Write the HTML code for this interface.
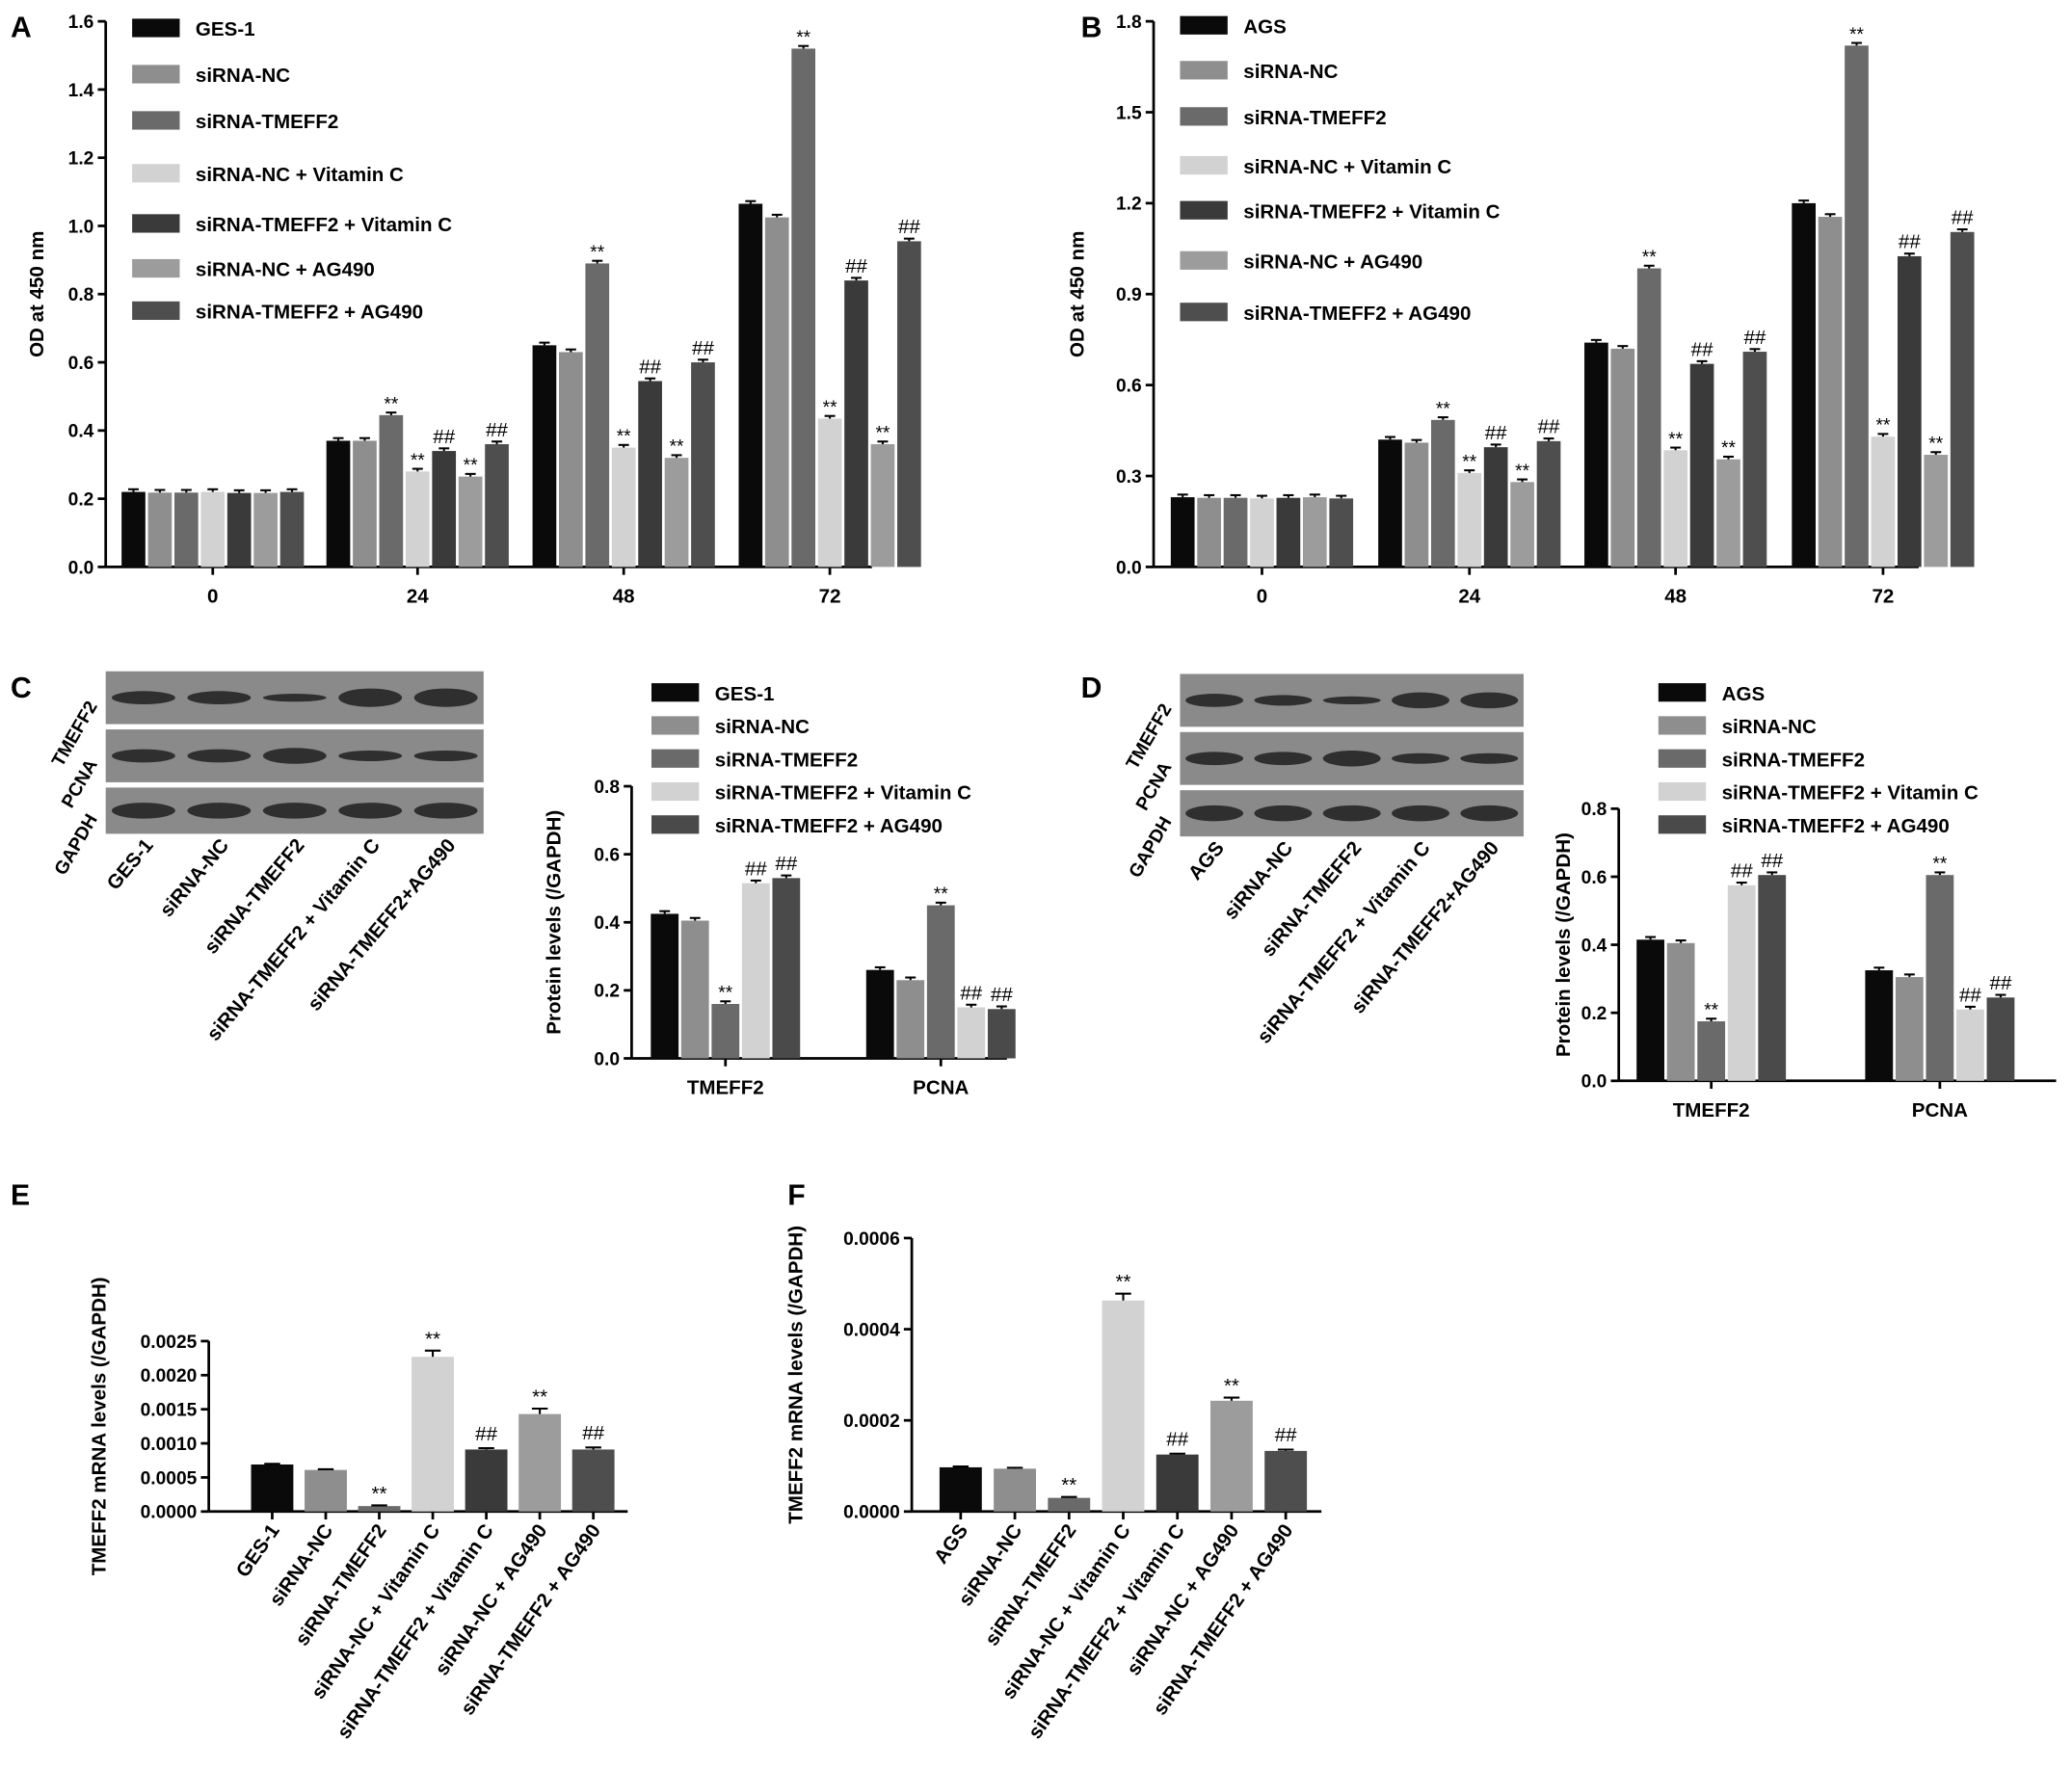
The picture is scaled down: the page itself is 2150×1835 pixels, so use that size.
<!DOCTYPE html>
<html><head><meta charset="utf-8"><style>
html,body{margin:0;padding:0;background:#fff;}
svg{display:block;font-family:"Liberation Sans",Arial,sans-serif;font-weight:bold;}
</style></head><body>
<svg id="fig" width="2150" height="1835" viewBox="0 0 1568 1338" xmlns="http://www.w3.org/2000/svg"></svg>
<script>
// ---------- data ----------
const colsA = ['#0a0a0a','#8e8e8e','#6a6a6a','#d2d2d2','#3a3a3a','#9c9c9c','#4e4e4e'];
const colsC = ['#0a0a0a','#8e8e8e','#6a6a6a','#d2d2d2','#4a4a4a'];
const timeCats = ['0','24','48','72'];
const legendA = ['GES-1','siRNA-NC','siRNA-TMEFF2','siRNA-NC + Vitamin C','siRNA-TMEFF2 + Vitamin C','siRNA-NC + AG490','siRNA-TMEFF2 + AG490'];
const legendB = ['AGS','siRNA-NC','siRNA-TMEFF2','siRNA-NC + Vitamin C','siRNA-TMEFF2 + Vitamin C','siRNA-NC + AG490','siRNA-TMEFF2 + AG490'];
const valsA = [[0.22,0.218,0.218,0.22,0.217,0.217,0.22],[0.37,0.37,0.445,0.28,0.34,0.265,0.36],[0.65,0.63,0.89,0.35,0.545,0.32,0.60],[1.065,1.025,1.52,0.435,0.84,0.36,0.955]];
const valsB = [[0.23,0.228,0.228,0.226,0.228,0.23,0.226],[0.42,0.41,0.485,0.31,0.395,0.28,0.415],[0.74,0.72,0.985,0.385,0.67,0.355,0.71],[1.2,1.155,1.72,0.43,1.025,0.37,1.105]];
const marksTime = ['','','**','**','##','**','##'];
const ticksA = [0,0.2,0.4,0.6,0.8,1.0,1.2,1.4,1.6];
const ticksB = [0,0.3,0.6,0.9,1.2,1.5,1.8];
const protCats = ['TMEFF2','PCNA'];
const legendC = ['GES-1','siRNA-NC','siRNA-TMEFF2','siRNA-TMEFF2 + Vitamin C','siRNA-TMEFF2 + AG490'];
const legendD = ['AGS','siRNA-NC','siRNA-TMEFF2','siRNA-TMEFF2 + Vitamin C','siRNA-TMEFF2 + AG490'];
const valsC = [[0.425,0.405,0.16,0.515,0.53],[0.26,0.23,0.45,0.15,0.145]];
const valsD = [[0.415,0.405,0.175,0.575,0.605],[0.325,0.305,0.605,0.21,0.245]];
const marksC = [['','','**','##','##'],['','','**','##','##']];
const ticksC = [0,0.2,0.4,0.6,0.8];
const catsE = ['GES-1','siRNA-NC','siRNA-TMEFF2','siRNA-NC + Vitamin C','siRNA-TMEFF2 + Vitamin C','siRNA-NC + AG490','siRNA-TMEFF2 + AG490'];
const catsF = ['AGS','siRNA-NC','siRNA-TMEFF2','siRNA-NC + Vitamin C','siRNA-TMEFF2 + Vitamin C','siRNA-NC + AG490','siRNA-TMEFF2 + AG490'];
const valsE = [0.00069,0.00061,0.00008,0.00227,0.00091,0.00143,0.00091];
const errE = [0.00001,0.00001,0.00001,0.00009,0.00002,0.00008,0.00003];
const valsF = [0.000097,0.000094,0.00003,0.000463,0.000125,0.000243,0.000133];
const errF = [0.000002,0.000002,0.000002,0.000015,0.000002,0.000007,0.000003];
const marksE = ['','','**','**','##','**','##'];
const ticksE = [0,0.0005,0.001,0.0015,0.002,0.0025];
const ticksF = [0,0.0002,0.0004,0.0006];

// ---------- helpers ----------
const NS='http://www.w3.org/2000/svg';
const svg=document.getElementById('fig');
function el(tag,attrs,parent,txt){const e=document.createElementNS(NS,tag);for(const k in attrs)e.setAttribute(k,attrs[k]);if(txt!==undefined)e.textContent=txt;(parent||svg).appendChild(e);return e;}
function grp(name){const g=el('g',{},svg);return g;}

function yAxis(g,x,y0,y1,ticks,max,fmt,title,tx){
  const ys=v=>y0-(v/max)*(y0-y1);
  const ax=el('line',{x1:x,y1:y0,x2:x,y2:y1,stroke:'#000','stroke-width':2},g);
  
  ticks.forEach(t=>{const y=ys(t);el('line',{x1:x-6,y1:y,x2:x,y2:y,stroke:'#000','stroke-width':2},g);
    const l=el('text',{x:x-9,y:y+5,'text-anchor':'end','font-size':14},g,fmt(t));
    });
  const cy=(y0+y1)/2;
  const t=el('text',{x:tx,y:cy,'text-anchor':'middle','font-size':15,transform:`rotate(-90 ${tx} ${cy})`},g,title);
  
  return ys;
}
function legend(g,x,ys,labels,cols,fs){
  labels.forEach((s,i)=>{const r=el('rect',{x:x,y:ys[i]-8,width:36,height:14,fill:cols[i]},g);
    
    const t=el('text',{x:x+48,y:ys[i]+5,'font-size':fs},g,s);
    });
}
function groupedChart(name,cfg){
  const g=grp(name);
  const ys=yAxis(g,cfg.x0,cfg.y0,cfg.y1,cfg.ticks,cfg.max,cfg.fmt,cfg.title,cfg.tx);
  const ax=el('line',{x1:cfg.x0,y1:cfg.y0,x2:cfg.x1,y2:cfg.y0,stroke:'#000','stroke-width':2},g);
  
  const n=cfg.vals[0].length;
  cfg.cats.forEach((c,gi)=>{
    const cx=cfg.centers[gi];
    el('line',{x1:cx,y1:cfg.y0,x2:cx,y2:cfg.y0+6,stroke:'#000','stroke-width':2},g);
    const tl=el('text',{x:cx,y:cfg.y0+27,'text-anchor':'middle','font-size':15},g,c);
    
    cfg.vals[gi].forEach((v,i)=>{
      const bx=cx-(n*cfg.bw)/2+i*cfg.bw;const y=ys(v);
      const b=el('rect',{x:bx+1,y:y,width:cfg.bw-2,height:cfg.y0-y,fill:cfg.cols[i]},g);
      
      const mx=bx+cfg.bw/2;
      el('line',{x1:mx-4,y1:y-2,x2:mx+4,y2:y-2,stroke:'#000','stroke-width':1.5},g);
      el('line',{x1:mx,y1:y-2,x2:mx,y2:y,stroke:'#000','stroke-width':1.5},g);
      const m=cfg.marks(gi,i);
      if(m){const t=el('text',{x:mx,y:y-(m=='**'?4:6),'text-anchor':'middle','font-size':m=='**'?14:15,'font-weight':'normal'},g,m);
        }
    });
  });
  return g;
}
function singleChart(name,cfg){
  const g=grp(name);
  const ys=yAxis(g,cfg.x0,cfg.y0,cfg.y1,cfg.ticks,cfg.max,cfg.fmt,cfg.title,cfg.tx);
  const ax=el('line',{x1:cfg.x0,y1:cfg.y0,x2:cfg.x1,y2:cfg.y0,stroke:'#000','stroke-width':2},g);
  
  cfg.vals.forEach((v,i)=>{
    const cx=cfg.x0+cfg.start+i*cfg.step;const y=ys(v);const ye=ys(v+cfg.err[i]);
    const b=el('rect',{x:cx-cfg.bw/2,y:y,width:cfg.bw,height:cfg.y0-y,fill:colsA[i]},g);
    
    el('line',{x1:cx,y1:ye,x2:cx,y2:y,stroke:'#000','stroke-width':1.5},g);
    el('line',{x1:cx-6,y1:ye,x2:cx+6,y2:ye,stroke:'#000','stroke-width':1.5},g);
    el('line',{x1:cx,y1:cfg.y0,x2:cx,y2:cfg.y0+6,stroke:'#000','stroke-width':2},g);
    const tl=el('text',{x:cx+6,y:cfg.y0+14,'text-anchor':'end','font-size':15,transform:`rotate(-55 ${cx+6} ${cfg.y0+14})`},g,cfg.cats[i]);
    
    const m=cfg.marks[i];
    if(m){const t=el('text',{x:cx,y:ye-(m=='**'?4:6),'text-anchor':'middle','font-size':15,'font-weight':'normal'},g,m);
      }
  });
}
function blot(name,x,y,w,labels,rowIntensity,xlabels){
  const g=grp(name);
  const rows=[[y,40],[y+44,40],[y+88,35]];
  rows.forEach((r,ri)=>{
    const rr=el('rect',{x:x,y:r[0],width:w,height:r[1],fill:'#8a8a8a'},g);
    
    const lw=w/5;
    rowIntensity[ri].forEach((h,i)=>{
      el('ellipse',{cx:x+lw*(i+0.5),cy:r[0]+r[1]/2,rx:lw*0.42,ry:h,fill:'#1e1e1e',opacity:0.85},g);
    });
    const ly=r[0]+r[1]/2+6;
    const lx=x-6;
    const t=el('text',{x:lx,y:ly,'text-anchor':'end','font-size':14,transform:`rotate(-60 ${lx} ${ly})`},g,labels[ri]);
    
  });
  const lw=w/5, by=y+132;
  xlabels.forEach((s,i)=>{const cx=x+lw*(i+0.5)+8;
    const t=el('text',{x:cx,y:by,'text-anchor':'end','font-size':15,transform:`rotate(-50 ${cx} ${by})`},g,s);
    });
}
function letter(s,x,y){const t=el('text',{x:x,y:y,'font-size':22},svg,s);}

// ---------- panels ----------
letter('A',8,28);letter('B',818,28);letter('C',8,528);letter('D',818,528);letter('E',8,912);letter('F',596,912);

const g1=groupedChart('panel-a-chart',{x0:80,x1:660,y0:429,y1:16,ticks:ticksA,max:1.6,fmt:t=>t.toFixed(1),title:'OD at 450 nm',tx:33,
  cats:timeCats,vals:valsA,centers:[161,316,472,628],bw:20,cols:colsA,marks:(gi,i)=>gi==0?'':marksTime[i]});
legend(g1,100,[22,57,92,132,170,204,236],legendA,colsA,15);
const g2=groupedChart('panel-b-chart',{x0:873,x1:1452,y0:429,y1:16,ticks:ticksB,max:1.8,fmt:t=>t.toFixed(1),title:'OD at 450 nm',tx:820,
  cats:timeCats,vals:valsB,centers:[955,1112,1268,1425],bw:20,cols:colsA,marks:(gi,i)=>gi==0?'':marksTime[i]});
legend(g2,893,[20,54,89,126,160,198,237],legendB,colsA,15);

blot('panel-c-blot',80,508,286,['TMEFF2','PCNA','GAPDH'],[[5,5,3,7,7],[5,5,6,4,4],[6,6,6,6,6]],legendC.map(s=>s.replace(' + AG490','+AG490')));
const g3=groupedChart('panel-c-chart',{x0:478,x1:762,y0:801,y1:595,ticks:ticksC,max:0.8,fmt:t=>t.toFixed(1),title:'Protein levels (/GAPDH)',tx:424,
  cats:protCats,vals:valsC,centers:[549,712],bw:23,cols:colsC,marks:(gi,i)=>marksC[gi][i]});
legend(g3,493,[525,550,575,600,625],legendC,colsC,15);

blot('panel-d-blot',893,510,260,['TMEFF2','PCNA','GAPDH'],[[5,4,3,6,6],[5,5,6,4,4],[6,6,6,6,6]],legendD.map(s=>s.replace(' + AG490','+AG490')));
const g4=groupedChart('panel-d-chart',{x0:1225,x1:1556,y0:818,y1:612,ticks:ticksC,max:0.8,fmt:t=>t.toFixed(1),title:'Protein levels (/GAPDH)',tx:1188,
  cats:protCats,vals:valsD,centers:[1295,1468],bw:23,cols:colsC,marks:(gi,i)=>marksC[gi][i]});
legend(g4,1255,[525,550,575,600,625],legendD,colsC,15);

singleChart('panel-e-chart',{x0:158,x1:475,y0:1144,y1:1015,ticks:ticksE,max:0.0025,fmt:t=>t.toFixed(4),title:'TMEFF2 mRNA levels (/GAPDH)',tx:80,
  vals:valsE,err:errE,cats:catsE,marks:marksE,start:48,step:40.5,bw:32});
singleChart('panel-f-chart',{x0:690,x1:1000,y0:1144,y1:937,ticks:ticksF,max:0.0006,fmt:t=>t.toFixed(4),title:'TMEFF2 mRNA levels (/GAPDH)',tx:607,
  vals:valsF,err:errF,cats:catsF,marks:marksE,start:37,step:41,bw:32});
</script>
</body></html>
